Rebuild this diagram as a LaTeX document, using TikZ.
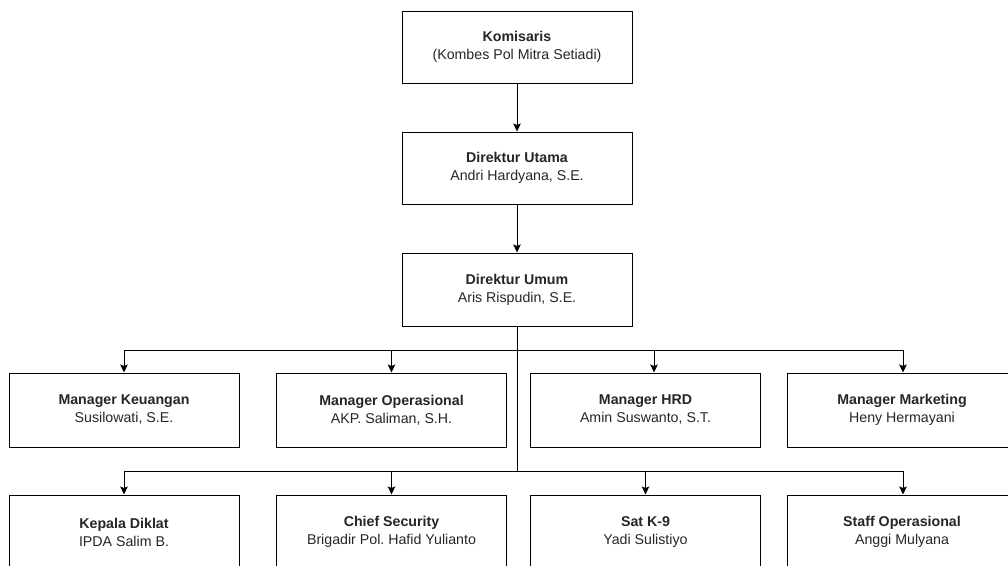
\documentclass[tikz,border=0pt]{standalone}
\usepackage{fontspec}
\setmainfont{Liberation Sans}
\usetikzlibrary{arrows.meta}
\frenchspacing
\begin{document}
\begin{tikzpicture}[x=1pt,y=-1pt,
  box/.style={draw=black, line width=1pt, fill=white, minimum width=230pt, minimum height=73pt,
    align=center, inner sep=0pt, text=black!85, font=\fontsize{14.2}{18}\selectfont},
  wire/.style={draw=black, line width=1pt},
  arr/.style={wire, -{Stealth[length=8pt,width=7.5pt,inset=1.5pt]}}
]
\useasboundingbox (0,0) rectangle (1008,565);
% top chain
\node[box, minimum height=72pt] (kom) at (517,47) {\textbf{Komisaris}\\(Kombes Pol Mitra Setiadi)};
\node[box, minimum height=72pt] (dut) at (517,168) {\textbf{Direktur Utama}\\Andri Hardyana, S.E.};
\node[box] (dum) at (517,289.5) {\textbf{Direktur Umum}\\Aris Rispudin, S.E.};
% managers
\node[box, minimum height=74pt] (mk) at (124,410) {\textbf{Manager Keuangan}\\Susilowati, S.E.};
\node[box, minimum height=74pt] (mo) at (391.5,410) {\textbf{Manager Operasional}\\AKP. Saliman, S.H.};
\node[box, minimum height=74pt] (mh) at (645.5,410) {\textbf{Manager HRD}\\Amin Suswanto, S.T.};
\node[box, minimum height=74pt] (mm) at (902,410) {\textbf{Manager Marketing}\\Heny Hermayani};
% staff
\node[box, minimum height=74pt] (kd) at (124,532) {\textbf{Kepala Diklat}\\IPDA Salim B.};
\node[box, minimum height=74pt] (cs) at (391.5,532) {\textbf{Chief Security}\\Brigadir Pol. Hafid Yulianto};
\node[box, minimum height=74pt] (sk) at (645.5,532) {\textbf{Sat K-9}\\Yadi Sulistiyo};
\node[box, minimum height=74pt] (so) at (902,532) {\textbf{Staff Operasional}\\Anggi Mulyana};
% buses
\coordinate (busA) at (517,350);
\coordinate (busB) at (517,471);
\coordinate (busAL) at (124,350);
\coordinate (busAR) at (903,350);
\coordinate (busBL) at (124,471);
\coordinate (busBR) at (903,471);
\coordinate (hrdA) at (654,350);
% connectors
\draw[arr] (kom.south) -- (dut.north);
\draw[arr] (dut.south) -- (dum.north);
\draw[wire] (dum.south) -- (busB);
\draw[wire] (busAL) -- (busAR);
\draw[wire] (busBL) -- (busBR);
\draw[arr] (busAL) -- (busAL |- mk.north);
\draw[arr] (mo.north |- busA) -- (mo.north);
\draw[arr] (hrdA) -- (hrdA |- mh.north);
\draw[arr] (busAR) -- (busAR |- mm.north);
\draw[arr] (busBL) -- (busBL |- kd.north);
\draw[arr] (cs.north |- busB) -- (cs.north);
\draw[arr] (sk.north |- busB) -- (sk.north);
\draw[arr] (busBR) -- (busBR |- so.north);
\end{tikzpicture}
\end{document}
